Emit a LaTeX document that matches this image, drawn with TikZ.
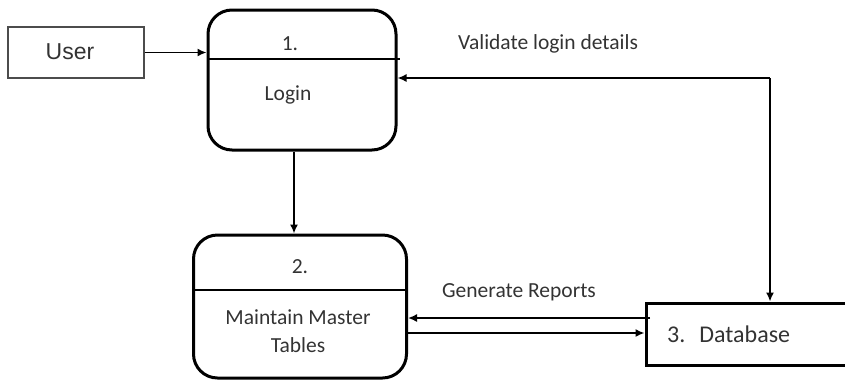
\documentclass[tikz,border=0pt]{standalone}
\usepackage{fontspec}
\setmainfont{Carlito}
\newfontfamily\arialf{Liberation Sans}
\usetikzlibrary{arrows.meta}
\definecolor{txt}{HTML}{333333}
\begin{document}
\begin{tikzpicture}[x=1pt,y=-1pt,
  proc/.style={draw,line width=3pt,rounded corners=24pt,inner sep=0pt},
  ext/.style={draw=black!70,line width=1.1pt,inner sep=0pt},
  store/.style={draw,line width=3pt,inner sep=0pt},
  lbl/.style={text=txt,font=\fontsize{21.5}{24}\selectfont,inner sep=0pt},
  flow/.style={line width=1.6pt,-{Latex[length=9pt,width=8pt]}},
  div/.style={line width=1.3pt}]
\useasboundingbox (0,0) rectangle (845,381);
% external entity
\node[ext,minimum width=136pt,minimum height=51pt] (user) at (76,52.5) {};
\node[text=txt,font=\arialf\fontsize{23}{26}\selectfont,inner sep=0pt] (usert) at (70,52) {User};
% process 1
\node[proc,minimum width=188pt,minimum height=140pt] (p1) at (302,80) {};
\coordinate (d1l) at (208,59);
\coordinate (d1r) at (400,59);
\draw[div] (d1l) -- (d1r);
\node[lbl] (n1) at (290,44) {1.};
\node[lbl] (login) at (288,95) {Login};
% process 2
\node[proc,minimum width=213pt,minimum height=143pt] (p2) at (300,306.5) {};
\coordinate (d2l) at (193,290);
\coordinate (d2r) at (406,290);
\draw[div] (d2l) -- (d2r);
\node[lbl] (n2) at (300,267) {2.};
\node[lbl] (mm) at (298,317) {Maintain Master};
\node[lbl] (tab) at (298,345) {Tables};
% data store
\node[store,minimum width=230pt,minimum height=62pt] (db) at (761,334) {};
\node[lbl,anchor=west,font=\fontsize{24}{28}\selectfont] (dbt) at (667,334) {3.\hspace{14pt}Database};
% flows
\draw[flow] (user.east) -- (p1.west |- user.east);
\draw[flow] (p1.south -| 294,0) -- (p2.north -| 294,0);
\coordinate (vc) at (770,78);
\draw[flow] (vc) -- (p1.east |- vc);
\draw[flow] (vc) -- (db.north -| vc);
\node[lbl] (vt) at (548,44) {Validate login details};
\coordinate (g1) at (650,318);
\draw[flow] (g1) -- (p2.east |- g1);
\coordinate (g2) at (406,333);
\draw[flow] (p2.east |- g2) -- (db.west |- g2);
\node[lbl] (gt) at (519,292) {Generate Reports};
\end{tikzpicture}
\end{document}
